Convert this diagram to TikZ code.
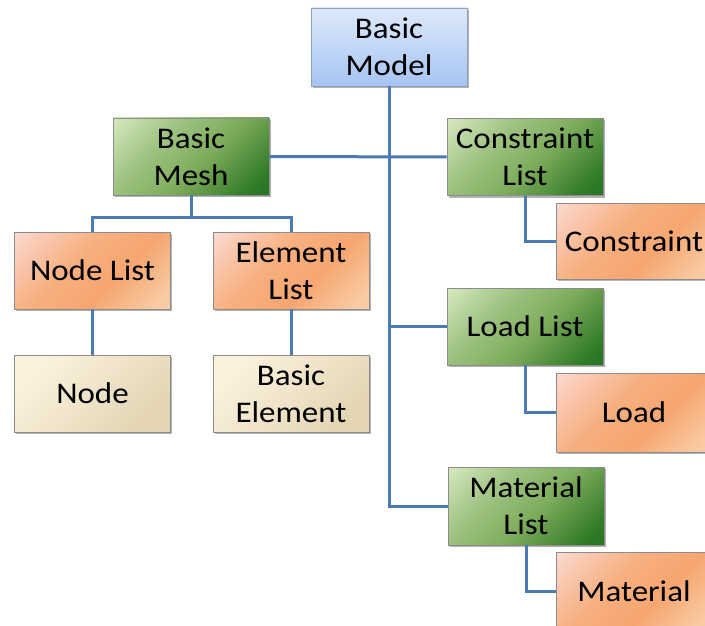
\documentclass[tikz,border=0pt]{standalone}
\usepackage{fontspec}
\setmainfont[FakeStretch=1.1]{Carlito}
\usetikzlibrary{shadows}
\definecolor{lineblue}{HTML}{4A7BB7}
\definecolor{boxborder}{HTML}{8C8C8C}
\definecolor{bluetop}{HTML}{DDE9FB}
\definecolor{bluebot}{HTML}{A6C4F2}
\definecolor{greentop}{HTML}{D6E8BF}
\definecolor{greenmid}{HTML}{7DAC5C}
\definecolor{greenbot}{HTML}{176A17}
\definecolor{orangetop}{HTML}{FBE2E0}
\definecolor{orangemid}{HTML}{F6A670}
\definecolor{orangebot}{HTML}{F9CBA4}
\definecolor{beigetop}{HTML}{FBF2DE}
\definecolor{beigebot}{HTML}{E3D5B3}
\pgfdeclareverticalshading{orangesh}{100bp}{color(0bp)=(orangebot); color(20bp)=(orangebot); color(40bp)=(orangemid); color(58bp)=(orangemid!90!white); color(76bp)=(orangetop!60!orangemid); color(90bp)=(orangetop); color(100bp)=(orangetop)}
\pgfdeclareverticalshading{greensh}{100bp}{color(0bp)=(greenbot); color(22bp)=(greenbot!75!greenmid); color(45bp)=(greenmid); color(65bp)=(greenmid!60!greentop); color(85bp)=(greentop); color(100bp)=(greentop)}
\tikzset{
  box/.style={draw=boxborder, line width=0.7pt, rectangle, minimum width=156pt, minimum height=77pt,
    align=center, inner sep=0pt, text=black, font=\fontsize{30}{37}\selectfont,
    drop shadow={shadow xshift=1.5pt, shadow yshift=-2pt, fill=black, opacity=0.3}},
  bluebox/.style={box, top color=bluetop, bottom color=bluebot, draw=bluebot!70!black!80},
  greenbox/.style={box, shading=greensh, shading angle=45},
  orangebox/.style={box, shading=orangesh, shading angle=45},
  beigebox/.style={box, top color=beigetop, bottom color=beigebot, shading angle=45},
  conn/.style={draw=lineblue, line width=3pt}
}
\begin{document}
\begin{tikzpicture}[x=1pt, y=-1pt]
\useasboundingbox (0,0) rectangle (705,626);
\begin{scope}
\clip (0,0) rectangle (705,626);
\node[bluebox, minimum height=78pt] (model) at (389,47) {Basic\\Model};
\node[greenbox] (mesh) at (191,156.5) {Basic\\Mesh};
\node[greenbox] (clist) at (525,157) {Constraint\\List};
\node[orangebox] (nlist) at (92.5,270.5) {Node List};
\node[orangebox] (elist) at (291,270.5) {Element\\List};
\node[beigebox] (node) at (92.5,393.5) {Node};
\node[beigebox] (belem) at (291,393.5) {Basic\\Element};
\node[orangebox, minimum height=76pt] (cons) at (634,241) {Constraint};
\node[greenbox] (llist) at (525,326.5) {Load List};
\node[orangebox, minimum height=79pt] (load) at (634,412.5) {Load};
\node[greenbox, minimum height=78pt] (matlist) at (526,506) {Material\\List};
\node[orangebox, minimum height=78pt] (mat) at (634,591) {Material};
\end{scope}
\begin{scope}
\clip (0,0) rectangle (705,626);
\draw[conn] (model.south) -- (model.south |- matlist.west) -- (matlist.west);
\draw[conn] (mesh.east) -- (clist.west);
\draw[conn] (model.south |- llist.west) -- (llist.west);
\draw[conn] (mesh.south) -- ++(0,22) coordinate (split) -| (nlist.north);
\draw[conn] (split) -| (elist.north);
\draw[conn] (nlist.south) -- (node.north);
\draw[conn] (elist.south) -- (belem.north);
\draw[conn] (clist.south) |- (cons.west);
\draw[conn] (llist.south) |- (load.west);
\draw[conn] (matlist.south) |- (mat.west);
\end{scope}
\end{tikzpicture}
\end{document}
